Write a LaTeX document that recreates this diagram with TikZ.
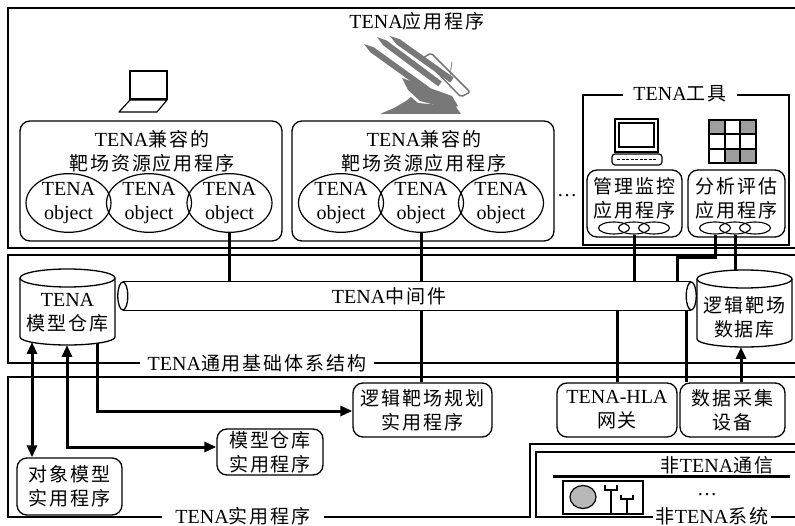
\documentclass[tikz,border=0pt]{standalone}
\usepackage{fontspec}
\setmainfont{Liberation Serif}
\newfontfamily\cjk[Scale=0.95,LetterSpace=10]{Noto Sans CJK SC}
\newcommand\zh[1]{{\cjk #1}}
\usetikzlibrary{arrows.meta,shapes.geometric}
\definecolor{launcher}{gray}{0.47}
\definecolor{cellgray}{gray}{0.62}
\definecolor{discgray}{gray}{0.72}
\begin{document}
\begin{tikzpicture}[x=1pt,y=-1pt,
  every node/.style={font=\fontsize{20pt}{24pt}\selectfont, inner sep=0pt, align=center},
  frame/.style={draw, line width=1.4pt},
  rbox/.style={draw, rounded corners=10pt, line width=1.3pt},
  obj/.style={ellipse, draw, line width=1.2pt, minimum width=85pt, minimum height=53pt},
  mini/.style={ellipse, draw, line width=1.1pt, minimum width=31pt, minimum height=12pt},
  link/.style={line width=3pt},
  arr/.style={link, -{Triangle[length=12pt,width=10pt]}},
  darr/.style={link, {Triangle[length=12pt,width=10pt]}-{Triangle[length=12pt,width=10pt]}},
  lbl/.style={fill=white, inner xsep=8pt, inner ysep=1pt},
  thin/.style={line width=1.2pt},
]
\useasboundingbox (0,0) rectangle (795,526);

% ---------- layer frames ----------
\draw[frame] (8,8) rectangle (800,248);
\draw[frame] (8,255) rectangle (800,363);
\draw[frame] (800,377) -- (8,377) -- (8,517) -- (530,517) -- (530,444) -- (800,444);
\draw[frame] (800,452) -- (536,452) -- (536,517) -- (800,517);

\node (apps) at (417,21) {TENA\zh{应用程序}};
\node[lbl] (infra) at (257,363) {TENA\zh{通用基础体系结构}};
\node[lbl, inner xsep=13pt] (utils) at (243,516) {TENA\zh{实用程序}};
\node[lbl, inner xsep=3pt] (nonsys) at (712,516) {\zh{非}TENA\zh{系统}};

% ---------- laptop ----------
\draw[thin] (130,71) rectangle (167,99);
\draw[thin, line join=round] (130,100) -- (119,112) -- (157,112) -- (167,100) -- cycle;

% ---------- missile launcher ----------
\fill[launcher] (364,44) -- (370.4,52.3) -- (426.2,92.4) -- (429.8,87.6) -- (373.9,47.4) -- cycle;
\fill[launcher] (377,37) -- (383.2,45.4) -- (438.2,86.4) -- (441.8,81.6) -- (386.8,40.6) -- cycle;
\fill[launcher] (390,36) -- (396.4,44.2) -- (450.3,82.5) -- (453.7,77.6) -- (399.9,39.3) -- cycle;
\draw[launcher, line width=1.5pt, rounded corners=2pt] (423,58) -- (431,53) -- (470,92) -- (461,97) -- cycle;
\fill[launcher] (402,78) -- (452,96) -- (458,106) -- (450,109) -- (420,101) -- (408,90) -- cycle;
\fill[launcher] (380,114) -- (394,108) -- (406,101) -- (411,97) -- (418,103) -- (440,105) -- (454,104) -- (461,114) -- cycle;
\draw[launcher, line width=0.8pt] (452,62) -- (449,82);

% ---------- range resource applications ----------
\node[rbox, minimum width=262pt, minimum height=120pt] (rr1) at (151,181) {};
\node (rr1h) at (152,151) {TENA\zh{兼容的}\\\zh{靶场资源应用程序}};
\node[obj] (o11) at (68.5,203) {TENA\\object};
\node[obj] (o12) at (149,203) {TENA\\object};
\node[obj] (o13) at (229.5,203) {TENA\\object};

\node[rbox, minimum width=262pt, minimum height=120pt] (rr2) at (423,181) {};
\node (rr2h) at (424,151) {TENA\zh{兼容的}\\\zh{靶场资源应用程序}};
\node[obj] (o21) at (341,203) {TENA\\object};
\node[obj] (o22) at (421,203) {TENA\\object};
\node[obj] (o23) at (501,203) {TENA\\object};

\node (dots1) at (567,196) {…};

% ---------- TENA tools ----------
\draw[frame, line width=1.3pt] (583,95) rectangle (789,245);
\node[lbl, inner xsep=10pt] (tools) at (680,94) {TENA\zh{工具}};

% monitor
\draw[line width=1.5pt] (615,119) rectangle (658,152);
\draw[thin] (619,123) rectangle (654,147);
\draw[thin, rounded corners=3pt] (612,154) rectangle (662,165);
\draw[line width=1pt, dash pattern=on 3pt off 1.5pt] (617,159.5) -- (657,159.5);

% chart grid
\fill (708,119) rectangle (757,164);
\foreach \c/\r/\col in {0/0/cellgray,1/0/white,2/0/cellgray,0/1/white,1/1/white,2/1/white,0/2/white,1/2/cellgray,2/2/cellgray}
  \fill[\col] ({710+\c*15.67},{121+\r*14.33}) rectangle ++(13.67,12.33);

\node[rbox, minimum width=95pt, minimum height=67pt] (mon) at (634.5,203.5) {};
\node (monT) at (634.5,198) {\zh{管理监控}\\\zh{应用程序}};
\node[mini] (m1) at (614,228) {};
\node[mini] (m2) at (634,228) {};
\node[mini] (m3) at (654,228) {};

\node[rbox, minimum width=97pt, minimum height=67pt] (ana) at (736.5,203.5) {};
\node (anaT) at (736.5,198) {\zh{分析评估}\\\zh{应用程序}};
\node[mini] (a1) at (715,228) {};
\node[mini] (a2) at (735,228) {};
\node[mini] (a3) at (755,228) {};

% ---------- databases ----------
\draw[line width=1.3pt, fill=white] (20,278) -- (20,337) arc[start angle=180, end angle=0, x radius=47.5, y radius=8] -- (115,278);
\draw[line width=1.3pt, fill=white] (67.5,278) ellipse[x radius=47.5, y radius=9];
\node (repo) at (67.5,313) {TENA\\\zh{模型仓库}};

\draw[line width=1.3pt, fill=white] (697,279) -- (697,339) arc[start angle=180, end angle=0, x radius=47.5, y radius=8] -- (792,279);
\draw[line width=1.3pt, fill=white] (744.5,279) ellipse[x radius=47.5, y radius=9];
\node (logdb) at (744.5,317.5) {\zh{逻辑靶场}\\\zh{数据库}};

% ---------- utilities and gateways ----------
\node[rbox, minimum width=139pt, minimum height=54pt] (plan) at (422.5,410) {\zh{逻辑靶场规划}\\\zh{实用程序}};
\node[rbox, minimum width=120pt, minimum height=54pt] (gw) at (617,410) {TENA-HLA\\\zh{网关}};
\node[rbox, minimum width=105pt, minimum height=54pt] (daq) at (732.5,410) {\zh{数据采集}\\\zh{设备}};
\node[rbox, minimum width=106pt, minimum height=46pt] (modelutil) at (270,452) {\zh{模型仓库}\\\zh{实用程序}};
\node[rbox, minimum width=105pt, minimum height=57pt] (objutil) at (69.5,486.5) {\zh{对象模型}\\\zh{实用程序}};

% ---------- middleware bus (anchor only) ----------
\node[minimum width=568pt, minimum height=28pt] (mw) at (407,296) {};

% ---------- connectors ----------
\coordinate (jog) at (677,258);
\coordinate (daqtap) at (686,296);
\coordinate (ldbtop) at (737,270);
\coordinate (ldbB) at (741,347);
\coordinate (rb1) at (32,342);
\coordinate (rb2) at (67,345);
\coordinate (rb3) at (97,343);
\coordinate (rb2turn) at (67,447);
\coordinate (rb3turn) at (97,411);

\draw[link] (o13.south) -- (o13.south |- mw.north);
\draw[link] (o22.south) -- (o22.south |- plan.north);
\draw[link] (m2.south) -- (m2.south |- mw.north);
\draw[link] (a1.south) |- (jog) -- (jog |- mw.north);
\draw[link] (a2.south) -- (a2.south |- ldbtop);
\draw[link] (daqtap) -- (daqtap |- daq.north);
\draw[link] (gw.north |- mw.south) -- (gw.north);
\draw[arr] (ldbB |- daq.north) -- (ldbB);

\draw[darr] (rb1) -- (rb1 |- objutil.north);
\draw[darr] (rb2) -- (rb2turn) -- (rb2turn -| modelutil.west);
\draw[arr] (rb3) -- (rb3turn) -- (rb3turn -| plan.west);

% ---------- middleware bus drawn over the links ----------
\fill[white] (mw.north west) rectangle (mw.south east);
\draw[line width=1.3pt] (mw.north west) -- (mw.north east) (mw.south west) -- (mw.south east);
\draw[line width=1.3pt, fill=white] (mw.west) ellipse[x radius=5, y radius=14];
\draw[line width=1.3pt, fill=white] (mw.east) ellipse[x radius=5, y radius=14];
\node (mwtext) at (389,296) {TENA\zh{中间件}};

% ---------- non-TENA systems ----------
\node (noncomm) at (717,465) {\zh{非}TENA\zh{通信}};
\draw[line width=3pt] (553,476) -- (790,476);
\draw[thin] (563,481) rectangle (643,514);
\draw[thin, fill=discgray] (583,497) ellipse[x radius=13, y radius=11.5];
\draw[thin] (611,514) -- (611,490) (605,485) -- (605,490) -- (617,490) -- (617,485);
\draw[thin] (627,514) -- (627,499) (621,495) -- (621,499) -- (633,499) -- (633,495);
\node (dots2) at (707,495) {…};
\end{tikzpicture}
\end{document}
